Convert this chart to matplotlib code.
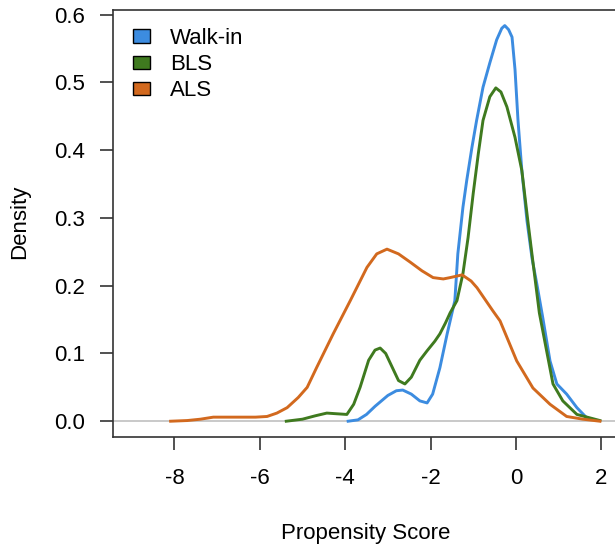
import numpy as np
import matplotlib.pyplot as plt
from matplotlib.patches import Patch

# density curves
walkin_x = [-3.93, -3.7, -3.5, -3.3, -3.0, -2.8, -2.65, -2.45, -2.25, -2.08, -1.95, -1.78,
            -1.61, -1.43, -1.36, -1.24, -1.15, -1.03, -0.92, -0.77, -0.61, -0.45, -0.33,
            -0.26, -0.17, -0.09, -0.02, 0.05, 0.14, 0.26, 0.38, 0.49, 0.56, 0.63, 0.8, 0.96,
            1.19, 1.43, 1.66, 1.78]
walkin_y = [0.0, 0.002, 0.01, 0.022, 0.038, 0.045, 0.046, 0.04, 0.03, 0.027, 0.04, 0.079,
            0.129, 0.178, 0.247, 0.316, 0.356, 0.404, 0.444, 0.493, 0.529, 0.563, 0.58,
            0.584, 0.578, 0.567, 0.519, 0.444, 0.37, 0.296, 0.24, 0.203, 0.178, 0.153, 0.089,
            0.055, 0.04, 0.02, 0.005, 0.003]

bls_x = [-5.38, -5.0, -4.7, -4.43, -4.2, -3.96, -3.8, -3.65, -3.45, -3.3, -3.18, -3.05,
         -2.9, -2.75, -2.6, -2.45, -2.25, -2.08, -1.9, -1.78, -1.65, -1.54, -1.38, -1.24,
         -1.12, -1.0, -0.88, -0.77, -0.61, -0.47, -0.35, -0.21, -0.02, 0.14, 0.28, 0.4,
         0.55, 0.72, 0.87, 1.1, 1.43, 1.97]
bls_y = [0.0, 0.003, 0.008, 0.012, 0.011, 0.01, 0.025, 0.05, 0.09, 0.105, 0.108, 0.1,
         0.08, 0.06, 0.055, 0.065, 0.09, 0.104, 0.118, 0.129, 0.145, 0.16, 0.178, 0.218,
         0.271, 0.336, 0.395, 0.444, 0.479, 0.492, 0.486, 0.464, 0.419, 0.37, 0.296, 0.235,
         0.16, 0.104, 0.055, 0.03, 0.01, 0.001]

als_x = [-8.09, -7.7, -7.39, -7.09, -6.5, -6.1, -5.83, -5.6, -5.36, -5.1, -4.89, -4.67,
         -4.28, -3.88, -3.49, -3.26, -3.02, -2.75, -2.48, -2.2, -1.94, -1.7, -1.54, -1.26,
         -1.05, -0.91, -0.54, -0.37, 0.02, 0.4, 0.8, 1.19, 1.57, 1.97]
als_y = [0.0, 0.001, 0.003, 0.006, 0.006, 0.006, 0.007, 0.012, 0.02, 0.035, 0.05, 0.079,
         0.129, 0.178, 0.227, 0.247, 0.254, 0.247, 0.235, 0.222, 0.212, 0.21, 0.212, 0.216,
         0.207, 0.197, 0.163, 0.148, 0.089, 0.049, 0.025, 0.007, 0.003, 0.0]

labels = ["Walk-in", "BLS", "ALS"]
colors = ["#3c8ce0", "#3f7a1f", "#d2691e"]

plt.rcParams['font.family'] = ['Liberation Sans', 'DejaVu Sans']
plt.rcParams['font.size'] = 16

fig = plt.figure(figsize=(6.15, 5.48), dpi=100)
W, H = 615, 548
# axes box in pixels: left 113, right 620 (off the figure), top 10, bottom 437
ax = fig.add_axes([113 / W, (H - 437) / H, (620 - 113) / W, (437 - 10) / H])

ax.axhline(0, color="#c0c0c0", lw=1.2, zorder=1)
for xs, ys, c in zip([walkin_x, bls_x, als_x], [walkin_y, bls_y, als_y], colors):
    ax.plot(xs, ys, color=c, lw=2.1, zorder=2)

ax.set_xlim(-9.44, 2.44)
ax.set_ylim(-0.0233, 0.607)
ax.set_xticks([-8, -6, -4, -2, 0, 2])
ax.set_xticklabels(["-8", "-6", "-4", "-2", "0", "2"])
ax.set_yticks(np.arange(0, 0.61, 0.1))
ax.set_yticklabels(["%.1f" % v for v in np.arange(0, 0.61, 0.1)])

for s in ax.spines.values():
    s.set_color("#333333")
    s.set_linewidth(1.2)
ax.tick_params(axis='x', length=9.5, width=1.2, color="#333333", pad=13)
ax.tick_params(axis='y', length=9.5, width=1.2, color="#333333", pad=10.5)

fig.text(366 / W, 1 - 534 / H, "Propensity Score", ha='center', va='center')
fig.text(20 / W, 1 - 222 / H, "Density", ha='center', va='center', rotation=90)

handles = [Patch(facecolor=c, edgecolor="black", lw=1) for c in colors]
ax.legend(handles, labels, loc='upper left', bbox_to_anchor=(133 / W, 1 - 28 / H),
          bbox_transform=fig.transFigure, frameon=False, borderpad=0, borderaxespad=0,
          handlelength=0.77, handleheight=0.55, handletextpad=0.9, labelspacing=0.23)

fig.savefig("out.png", dpi=100)
